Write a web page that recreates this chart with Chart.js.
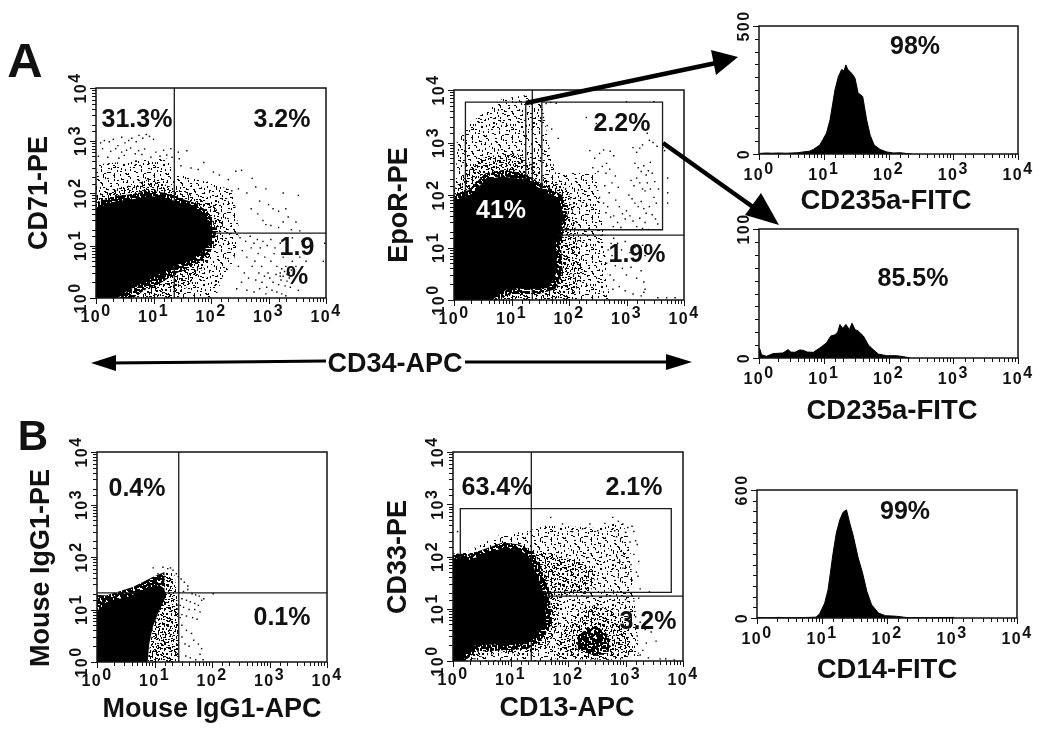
<!DOCTYPE html>
<html>
<head>
<meta charset="utf-8">
<script src="https://cdn.jsdelivr.net/npm/chart.js@4"></script>
<style>
  html, body { margin: 0; padding: 0; background: #fff; }
  #page { position: relative; width: 1050px; height: 732px; overflow: hidden; font-family: "Liberation Sans", sans-serif; }
  canvas { position: absolute; }
  svg { position: absolute; left: 0; top: 0; }
  .note { position: absolute; font-weight: bold; color: #111; white-space: nowrap; transform: translate(-50%, -50%); }
</style>
</head>
<body>
<div id="page">
  <svg width="1050" height="732" id="arrows" style="z-index:5">
    <g fill="#000" stroke="#000">
      <line x1="108" y1="363" x2="326" y2="361" stroke-width="3"/>
      <polygon points="91,363 116,355 116,371" stroke="none"/>
      <line x1="465" y1="362" x2="672" y2="362" stroke-width="3"/>
      <polygon points="692,362 666,354 666,370" stroke="none"/>
      <line x1="526" y1="103" x2="716" y2="63" stroke-width="4.5"/>
      <polygon points="738,57 711,50 716,75" stroke="none"/>
      <line x1="663" y1="143" x2="760" y2="212" stroke-width="4.5"/>
      <polygon points="779,225 745,215 761,193" stroke="none"/>
    </g>
  </svg>
</div>
<script>
// axis values
const logTicks = [1, 10, 100, 1000, 10000];
const logExps = ['0', '1', '2', '3', '4'];

// panel A, CD71 / CD34
const p1Core = [[1,1],[1,52],[2.2,70],[4.3,76],[8.5,88],[16.5,81],[28,65],[55,52],[82,36],[107,19],[94,10.4],[63,6.7],[37,5],[19,3.7],[11,2.6],[5.7,1.8],[3.3,1.3],[2.4,1]];
const p1Ring = [[1,1],[1,66],[2.2,88],[4.3,96],[8.5,112],[16.5,100],[28,80],[55,64],[90,44],[125,20],[108,9],[72,5.5],[44,4],[24,2.9],[14,2],[7,1.4],[4.4,1]];
const p1Dense = [[1,1],[1,95],[2.2,120],[5,150],[9,190],[20,130],[50,90],[110,60],[170,30],[140,14],[100,7],[70,3.4],[40,1.7],[24,1]];
const p1Sparse = [[1,1],[1,350],[4.3,410],[16.5,470],[24.7,227],[82,170],[240,110],[310,19],[250,5],[160,2.5],[120,1]];
const p1Dots = [[1.2,900],[1.4,1000],[1.7,950],[2,1050],[2.4,800],[2.8,1150],[3.2,900],[3.7,1000],[4.2,1100],[5,950],[5.6,1250],[6.5,1100],[7.5,1300],[8.5,1200],[10,1050],[1.3,700],[1.8,620],[2.2,700],[2.8,600],[3.4,650],[4,720],[4.8,560],[5.5,640],[6.3,540],[7,690],[9,480],[11,600],[13,500],[15,650],[17,530],[20,700],[21,480],[1.1,500],[1.6,480],[2.5,460],[3.1,520],[27,600],[38,640],[30,330],[45,300],[60,280],[75,380],[28,450],[110,250],[140,220],[200,180],[270,260],[340,270],[520,190],[230,110],[300,120],[420,100],[600,130],[900,120],[1800,100],[3300,90],[700,70],[1000,60],[1200,50],[1500,45],[2000,50],[2200,35],[500,50],[650,40],[800,30],[900,25],[1100,24],[1500,22],[1800,28],[2500,20],[3000,28],[3500,19],[320,14],[400,12],[480,15],[560,11],[640,13],[720,9],[800,12],[950,10],[1100,13],[1300,9],[1600,11],[2600,14],[3800,12],[9500,11],[9000,5],[350,8],[420,6],[500,9],[580,5],[660,7],[760,4],[860,6],[980,3],[1100,5],[1250,7],[1400,4],[1600,3],[1800,6],[2000,4],[2300,3],[2600,5],[3000,4],[3500,6],[4500,5],[380,3],[450,2.4],[520,4],[600,2.2],[680,3],[770,2],[850,2.6],[930,1.6],[1050,2.4],[1200,2],[1350,2.8],[1500,1.8],[1650,2.2],[1800,2.6],[1950,1.7],[2100,2.1],[2400,1.6],[2800,2.2],[3300,1.4],[420,1.4],[560,1.3],[700,1.5],[900,1.2],[1150,1.4],[1400,1.3],[1700,1.2],[2000,1.1],[300,4],[340,2],[280,1.5],[1700,3.6],[2100,2.8],[1900,3.2],[2300,2.4],[1600,2.6],[2500,3.4]];
const p1Quad = { vx: 23, hy: 17.2 };

// panel A, EpoR / CD34
const p2Core = [[1,1],[1,80],[1.8,93],[3.5,195],[6.9,226],[17.7,195],[34.6,125],[68,80],[83,38],[59,11.7],[63,3.6],[45,1.7],[20,1.6],[9,1.7],[4.6,1]];
const p2Ring = [[1,1],[1,100],[1.8,125],[3.5,260],[6.9,300],[17.7,260],[34.6,160],[76,100],[95,42],[72,12],[78,3.6],[58,1.6],[30,1.3],[10,1.3],[5.5,1]];
const p2Dense = [[1,1],[1,125],[1.58,262],[3.5,550],[11.8,630],[23,407],[34.6,226],[100,125],[132,21],[172,3.6],[116,1]];
const p2Sparse = [[1,1],[1.08,195],[1.13,1330],[2.36,2800],[6.9,6800],[17.7,7900],[34.6,5000],[45,860],[59,262],[300,262],[390,21],[510,1]];
const p2Dots = [[40,5500],[48,5800],[60,5600],[36,3000],[42,2100],[50,1800],[65,1200],[200,3000],[300,2300],[420,2900],[1000,6000],[3000,6000],[230,700],[280,500],[340,620],[400,720],[450,400],[520,680],[600,560],[260,330],[320,280],[380,350],[440,260],[510,310],[1300,800],[1500,650],[1700,780],[1900,900],[2300,1500],[2500,1100],[2900,1000],[3400,850],[4300,800],[4600,700],[1400,400],[1600,330],[1800,280],[2000,360],[2200,240],[2400,290],[2600,420],[2800,260],[3100,180],[3600,130],[5200,210],[5200,110],[5200,70],[1200,190],[1350,150],[1500,210],[1700,170],[1900,130],[2100,120],[2300,170],[2600,130],[3000,90],[3300,70],[1100,100],[1250,85],[1400,70],[1600,60],[1800,75],[2000,55],[2200,45],[2500,60],[2800,42],[3200,35],[3500,28],[1000,50],[1150,40],[1300,32],[1500,25],[1700,36],[1900,23],[2100,30],[2400,22],[600,40],[700,30],[800,24],[500,110],[650,80],[750,60],[850,44],[950,35],[420,150],[560,170],[640,230],[720,140],[470,60],[530,38],[590,25],[340,90],[400,70],[440,46],[600,15],[700,12],[820,9],[950,13],[1150,8],[1400,10],[1650,6],[1900,11],[2100,7],[560,7],[640,4.5],[720,5.5],[850,4],[1000,3],[1200,4.2],[1500,2.6],[1800,3.6],[2000,2.2],[2100,1.6],[600,2.4],[750,1.8],[950,1.5],[1300,1.3],[1800,1.2],[2000,1.4],[540,12],[480,9],[450,5],[520,3],[580,1.6],[3500,1.1],[5000,1.1],[7000,1.1]];
const p2Quad = { vx: 23, hy: 17.2 };
const p2GateA = [[1.58,21.8],[1.58,5870],[17.7,5870],[17.7,21.8]];
const p2GateB = [[33.7,21.8],[33.7,5870],[4235,5870],[4235,21.8],[33.7,21.8]];

// panel B, isotype control
const p3Core = [[1,1],[1,9.5],[1.64,14.8],[3.2,17],[6.2,23],[12.2,29],[14.9,25],[15.5,17],[11.4,8.2],[9.3,4.6],[8.1,2.2],[7.6,1]];
const p3Dense = [[7.6,1],[9.3,4.6],[12.2,9.5],[13.9,31],[14.9,52],[22,52],[25,17],[27,1]];
const p3Sparse = [[1,9],[1,19],[1.43,18.5],[4.2,26.7],[9.3,41.5],[14.9,52],[14.9,25],[3,15]];
const p3Dots = [[9.5,62],[11.5,48],[14,64],[17,60],[19,62],[21,56],[24,48],[26,42],[29,38],[33,33],[38,28],[32,22],[38,24],[45,20],[52,19],[60,18],[72,16],[105,20],[30,16],[36,15],[42,14],[50,13],[58,12],[66,15],[32,11],[40,10],[50,10],[62,9],[30,8],[36,7.5],[46,7],[55,6.5],[30,5],[36,4],[44,3.5],[30,3],[34,2.2],[40,2],[48,2.6],[58,2.2],[66,1.8],[35,1.3],[42,1.2],[52,1.1],[62,1.4],[70,1.1],[28,12],[28,7]];
const p3Quad = { vx: 26.4, hy: 20.8 };

// panel B, CD33 / CD13
const p4Core = [[1,1],[1,93],[1.9,86],[3.26,107],[7.3,145],[14.3,135],[21,100],[30,41],[39,17],[42,5.2],[28,2.9],[18.6,2.1],[7.3,2.1],[2.5,2],[1.66,1.38],[1.56,1]];
const p4Ring = [[1,1],[1,115],[1.9,110],[3.26,135],[7.3,185],[14.3,170],[25,125],[38,50],[48,20],[52,5],[35,2.6],[20,1.7],[8,1.6],[2.5,1.5],[1.6,1]];
const p4Dense = [[21,130],[60,110],[140,80],[240,60],[300,40],[250,22],[120,18],[70,17],[70,5],[45,2],[20,1.2],[8,1.5],[3,1.2],[1.6,1],[1,1],[1,93],[6,160]];
const p4Sparse = [[1.4,110],[6,250],[20,310],[45,400],[110,380],[300,350],[620,420],[900,420],[1200,200],[1300,40],[1500,10],[1700,1.2],[30,1],[1,1],[1,90]];
const p4BlobRing = [[140,1.7],[150,3],[210,4.2],[320,4.6],[460,3.4],[560,2.2],[500,1.4],[300,1.25]];
const p4BlobHalo = [[60,1.1],[80,4],[150,9],[300,12],[600,9],[1100,3.6],[1300,1.4],[800,1.05]];
const p4Dots = [[50,560],[80,420],[120,300],[180,340],[240,420],[330,310],[440,430],[600,560],[650,310],[750,470],[900,420],[1100,360],[1300,380],[1400,300],[700,240],[850,230],[1000,290],[1200,190],[1500,200],[1600,170],[850,130],[950,110],[1100,95],[1250,70],[1400,110],[1700,80],[1550,50],[1300,35],[1100,45],[900,60],[800,80],[700,100],[750,40],[1650,42],[1800,24],[2600,21],[1700,16],[1400,14],[1000,15],[2800,8],[1500,7],[1800,5.5],[2200,4],[3400,2.4],[2800,3.6],[2300,2.2],[1600,3],[2000,1.6],[1800,1.3],[2500,1.15],[4000,1.1],[5000,1.1],[7000,1.05],[1.2,300],[30,14],[40,12],[1.4,1.3],[1.2,1.2],[2.4,1.1]];
const p4Quad = { vx: 23, hy: 17.5 };
const p4Gate = [[1.34,20.6],[1.34,826],[6250,826],[6250,20.6],[1.34,20.6]];

// histograms
const h1X = [1,1.3,1.6,2,2.6,3.2,4,4.8,6,6.9,8.7,11,12.5,14.9,16.8,18.9,20.5,22,23.5,25.5,28,30.4,34,37,40,46,52,60,74,94,120,151,190,230];
const h1Y = [2,4,3,4,3,4,5,8,11,18,35,81,133,250,302,330,325,348,330,322,310,296,237,232,224,133,74,35,18,8,4,5,2,0];
const h2X = [1,1.05,1.09,1.3,1.65,2.35,2.8,3.1,3.6,4.2,4.8,5.6,6.9,8.7,11,12.8,14.9,16.4,17.8,19.6,22,24.9,27.3,30.4,34,41,49,58,70,94,134,181,216];
const h2Y = [8,6,2.6,1.3,3.4,3.9,6.5,4.6,4.4,6.2,6,4.6,4.4,7.8,11.7,17,18,20,26,23,26,22,27,22,21,17,10,6.5,3,1.8,1.8,0.8,0];
const h3X = [1,1.4,2.2,3,5,8.1,9.2,11,12.4,14.8,16.6,18.8,21,23.8,26.7,30,36,42,49,58,74,94,141,203,450,1080];
const h3Y = [3,1,3,1,2,4,20,70,133,304,398,460,495,507,445,390,282,212,125,62,23,11,8,2,1,3];
const h1YTicks = [0, 500];
const h2YTicks = [0, 100];
const h3YTicks = [0, 600];

// speckle tile for the areas too dense to read dot by dot, shading only
const tileSpecks = [[2,3],[9,1],[17,4],[25,2],[33,5],[38,1],[5,8],[13,9],[21,7],[29,10],[36,8],[1,13],[8,14],[16,12],[24,15],[31,13],[39,16],[4,18],[11,19],[19,17],[27,20],[35,18],[0,23],[7,22],[14,24],[22,22],[30,25],[37,23],[3,28],[10,27],[18,29],[26,27],[34,30],[6,33],[12,32],[20,34],[28,32],[36,35],[2,37],[9,38],[15,36],[23,38],[31,37],[38,39],[5,11],[22,11],[15,21],[32,20],[8,30],[25,34],[12,5],[35,12],[18,25],[28,6],[3,33],[38,28],[21,39],[10,16],[30,29],[16,33]];

function makeTile(offsets, w, h) {
  const tile = document.createElement('canvas');
  tile.width = 40;
  tile.height = 40;
  const c = tile.getContext('2d');
  c.fillStyle = '#000';
  offsets.forEach(o => {
    // alternate wide and tall specks so the fill does not read as rows
    tileSpecks.forEach((s, i) => c.fillRect((s[0] + o[0]) % 40, (s[1] + o[1]) % 40, i % 2 ? h : w, i % 2 ? w : h));
  });
  return c.createPattern(tile, 'repeat');
}
const sparseFill = makeTile([[0, 0], [13, 7]], 2, 1);
const denseFill = makeTile([[0, 0], [13, 7], [27, 19], [7, 29], [21, 3]], 2, 1);
const heavyFill = makeTile([[0, 0], [13, 7], [27, 19], [7, 29], [21, 3], [33, 25], [17, 13], [3, 36], [11, 23], [29, 33]], 2, 2);

const pad = { left: 44, top: 40, right: 24, bottom: 34 };
const page = document.getElementById('page');

function tenLabel(ctx, text, exp, x, y) {
  ctx.font = 'bold 16px "Liberation Sans"';
  ctx.letterSpacing = '1.5px';
  ctx.textBaseline = 'alphabetic';
  ctx.textAlign = 'left';
  const w1 = ctx.measureText(text).width;
  const w2 = exp ? ctx.measureText(exp).width : 0;
  ctx.fillText(text, x - (w1 + w2) / 2, y);
  if (exp) ctx.fillText(exp, x - (w1 + w2) / 2 + w1, y - 6);
}

// frame, tick marks and the 10^n labels, placed from the chart's scales
const axisMarks = {
  id: 'axisMarks',
  afterDraw(chart, args, opts) {
    const { ctx, chartArea: a, scales } = chart;
    ctx.save();
    ctx.strokeStyle = '#111';
    ctx.fillStyle = '#111';
    ctx.lineWidth = 1.5;
    ctx.strokeRect(a.left, a.top, a.right - a.left, a.bottom - a.top);
    ctx.lineWidth = 1;
    ctx.beginPath();
    scales.x.ticks.forEach(t => {
      const px = Math.round(scales.x.getPixelForValue(t.value)) + 0.5;
      const big = logTicks.includes(t.value);
      ctx.moveTo(px, a.bottom);
      ctx.lineTo(px, a.bottom + (big ? 6 : 4));
    });
    scales.y.ticks.forEach(t => {
      const py = Math.round(scales.y.getPixelForValue(t.value)) + 0.5;
      const big = opts.yValues.includes(t.value);
      ctx.moveTo(a.left, py);
      ctx.lineTo(a.left - (big ? 6 : 4), py);
    });
    ctx.stroke();
    logTicks.forEach((v, i) => tenLabel(ctx, '10', logExps[i], scales.x.getPixelForValue(v), a.bottom + opts.xBase));
    opts.yValues.forEach((v, i) => {
      ctx.save();
      ctx.translate(a.left - 10, scales.y.getPixelForValue(v));
      ctx.rotate(-Math.PI / 2);
      if (opts.yExps) tenLabel(ctx, '10', opts.yExps[i], 0, 0);
      else tenLabel(ctx, String(v), '', 0, 0);
      ctx.restore();
    });
    ctx.restore();
  }
};

function area(data, fillStyle, order) {
  return { data, showLine: true, fill: 'shape', backgroundColor: fillStyle, borderWidth: 0, pointRadius: 0, order };
}
function line(data, order) {
  return { data, showLine: true, fill: false, borderColor: '#1a1a1a', borderWidth: 1.3, pointRadius: 0, order };
}
function dots(data, order) {
  return { data, showLine: false, backgroundColor: '#000', pointStyle: 'rect', pointRadius: 1, borderWidth: 0, order };
}
function quad(q) {
  return [line([[q.vx, 1], [q.vx, 10000]], 1), line([[1, q.hy], [10000, q.hy]], 1)];
}

function makeChart(plot, datasets, yScale, marks) {
  const canvas = document.createElement('canvas');
  canvas.width = plot.w + pad.left + pad.right;
  canvas.height = plot.h + pad.top + pad.bottom;
  canvas.style.left = (plot.x - pad.left) + 'px';
  canvas.style.top = (plot.y - pad.top) + 'px';
  page.appendChild(canvas);
  new Chart(canvas, {
    type: 'scatter',
    data: { datasets },
    plugins: [axisMarks],
    options: {
      responsive: false,
      animation: false,
      events: [],
      layout: { padding: pad },
      plugins: { legend: { display: false }, tooltip: { enabled: false }, axisMarks: marks },
      scales: {
        x: {
          type: 'logarithmic', min: 1, max: 10000,
          ticks: { display: false }, grid: { display: false }, border: { display: false },
          afterFit(s) { s.height = 0; }
        },
        y: Object.assign({
          ticks: { display: false }, grid: { display: false }, border: { display: false },
          afterFit(s) { s.width = 0; }
        }, yScale)
      }
    }
  });
}

const logY = { type: 'logarithmic', min: 1, max: 10000 };
const logMarks = { yValues: logTicks, yExps: logExps, xBase: 24 };

makeChart({ x: 96, y: 88, w: 230, h: 210 }, [
  area(p1Core, '#000', 0), ...quad(p1Quad), dots(p1Dots, 2), area(p1Ring, heavyFill, 3), area(p1Dense, denseFill, 4), area(p1Sparse, sparseFill, 5)
], logY, logMarks);

makeChart({ x: 454, y: 90, w: 230, h: 210 }, [
  area(p2Core, '#000', 0), ...quad(p2Quad), line(p2GateA, 1), line(p2GateB, 1), dots(p2Dots, 2), area(p2Ring, heavyFill, 3), area(p2Dense, denseFill, 4), area(p2Sparse, sparseFill, 5)
], logY, logMarks);

makeChart({ x: 97, y: 452, w: 230, h: 210 }, [
  area(p3Core, '#000', 0), ...quad(p3Quad), dots(p3Dots, 2), area(p3Dense, denseFill, 3), area(p3Sparse, heavyFill, 4)
], logY, logMarks);

makeChart({ x: 453, y: 452, w: 230, h: 209 }, [
  area(p4Core, '#000', 0), ...quad(p4Quad), line(p4Gate, 1), dots(p4Dots, 2), area(p4Ring, heavyFill, 3), area(p4BlobRing, heavyFill, 3),
  area(p4Dense, denseFill, 4), area(p4BlobHalo, denseFill, 5), area(p4Sparse, sparseFill, 6)
], logY, logMarks);

function histogram(plot, xs, ys, yMax, step, yTicks) {
  const data = xs.map((x, i) => ({ x, y: ys[i] }));
  makeChart(plot, [{ data, showLine: true, fill: 'origin', backgroundColor: '#000', borderColor: '#000', borderWidth: 1, pointRadius: 0 }],
    { type: 'linear', min: 0, max: yMax, ticks: { display: false, stepSize: step } },
    { yValues: yTicks, xBase: 26 });
}
histogram({ x: 759, y: 26, w: 259, h: 128 }, h1X, h1Y, 500, 50, h1YTicks);
histogram({ x: 759, y: 229, w: 259, h: 129 }, h2X, h2Y, 100, 10, h2YTicks);
histogram({ x: 757, y: 490, w: 260, h: 128 }, h3X, h3Y, 600, 50, h3YTicks);

// text on the figure
const notes = [
  ['A', 25, 60, 49], ['B', 33, 436, 42],
  ['CD71-PE', 38, 193, 27, '#111', -90], ['EpoR-PE', 398, 205, 27, '#111', -90],
  ['Mouse IgG1-PE', 40, 568, 27, '#111', -90], ['CD33-PE', 397, 557, 27, '#111', -90],
  ['Mouse IgG1-APC', 212, 708, 27], ['CD13-APC', 567, 707, 27],
  ['CD235a-FITC', 886, 200, 27.5], ['CD235a-FITC', 892, 410, 27.5], ['CD14-FITC', 887, 669, 27.5],
  ['CD34-APC', 395, 363, 27],
  ['31.3%', 137, 118, 25], ['3.2%', 282, 118, 25], ['1.9', 297, 246, 25], ['%', 297, 275, 25],
  ['2.2%', 622, 122, 25], ['41%', 501, 209, 25, '#fff'], ['1.9%', 637, 253, 25],
  ['98%', 915, 45, 25], ['85.5%', 913, 277, 25],
  ['0.4%', 137, 487, 25], ['0.1%', 282, 616, 25],
  ['63.4%', 497, 486, 25], ['2.1%', 634, 486, 25], ['3.2%', 648, 620, 25],
  ['99%', 905, 510, 25]
];
notes.forEach(n => {
  const d = document.createElement('div');
  d.className = 'note';
  d.textContent = n[0];
  d.style.left = n[1] + 'px';
  d.style.top = n[2] + 'px';
  d.style.fontSize = n[3] + 'px';
  d.style.zIndex = 6;
  if (n[4]) d.style.color = n[4];
  if (n[5]) d.style.transform = 'translate(-50%, -50%) rotate(' + n[5] + 'deg)';
  page.appendChild(d);
});
</script>
</body>
</html>
